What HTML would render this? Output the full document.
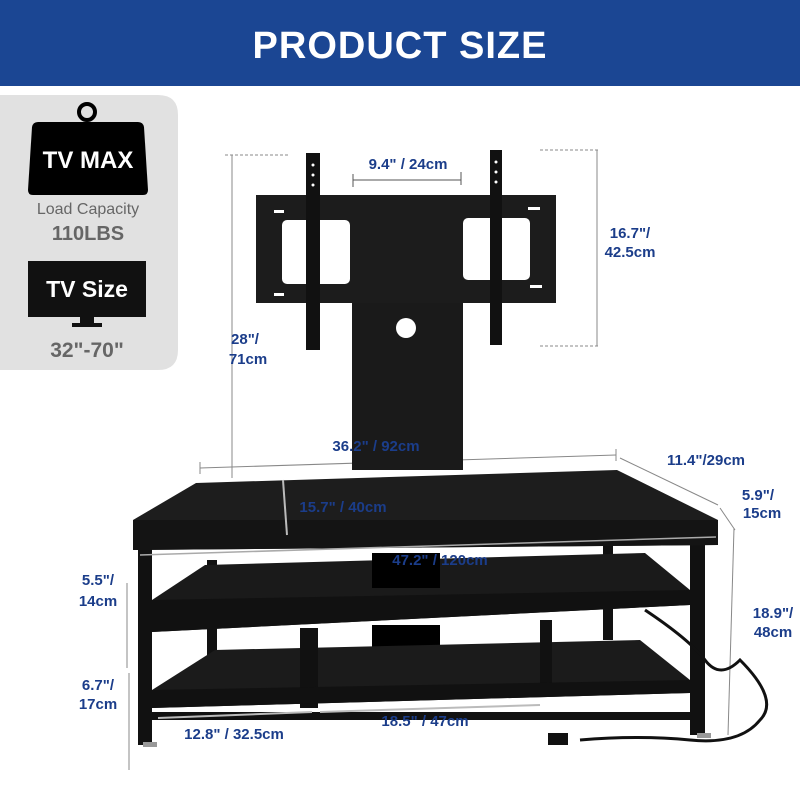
<!DOCTYPE html>
<html><head><meta charset="utf-8"><style>
html,body{margin:0;padding:0;background:#fff;}
svg{display:block;}
text{font-family:"Liberation Sans",sans-serif;font-weight:bold;}
</style></head><body>
<svg width="800" height="800" viewBox="0 0 800 800" xmlns="http://www.w3.org/2000/svg">
<rect width="800" height="800" fill="#fff"/>
<rect x="0" y="0" width="800" height="86" fill="#1b4693"/>
<text x="400" y="58" font-size="38" fill="#fff" text-anchor="middle" letter-spacing="1">PRODUCT SIZE</text>

<!-- left panel -->
<path d="M0 95 H158 Q178 95 178 115 V350 Q178 370 158 370 H0 Z" fill="#e1e1e1"/>
<circle cx="87" cy="112" r="8" fill="none" stroke="#000" stroke-width="4"/>
<path d="M38 122 H138 Q143 122 144 127 L148 190 Q148 195 143 195 H33 Q28 195 28 190 L32 127 Q33 122 38 122Z" fill="#000"/>
<text x="88" y="168" font-size="24" fill="#fff" text-anchor="middle">TV MAX</text>
<text x="88" y="214" font-size="16" fill="#666" text-anchor="middle" style="font-weight:normal">Load Capacity</text>
<text x="88" y="240" font-size="20" fill="#666" text-anchor="middle">110LBS</text>
<rect x="28" y="261" width="118" height="56" fill="#111"/>
<rect x="80" y="317" width="14" height="6" fill="#111"/><rect x="72" y="323" width="30" height="4" fill="#111"/>
<text x="87" y="297" font-size="23" fill="#fff" text-anchor="middle">TV Size</text>
<text x="87" y="357" font-size="21" fill="#666" text-anchor="middle">32"-70"</text>

<!-- dimension lines -->
<g stroke="#888" stroke-width="1" fill="none">
<line x1="225" y1="155" x2="290" y2="155" stroke-dasharray="3 2"/>
<line x1="232" y1="155" x2="232" y2="478"/>
<line x1="540" y1="150" x2="600" y2="150" stroke-dasharray="3 2"/>
<line x1="540" y1="346" x2="600" y2="346" stroke-dasharray="3 2"/>
<line x1="597" y1="150" x2="597" y2="346"/>
<line x1="353" y1="180" x2="461" y2="180" stroke="#555"/>
<line x1="353" y1="174" x2="353" y2="187" stroke="#555"/><line x1="461" y1="172" x2="461" y2="185" stroke="#555"/>
<line x1="200" y1="468" x2="616" y2="455"/>
<line x1="200" y1="462" x2="200" y2="474"/><line x1="616" y1="449" x2="616" y2="461"/>
<line x1="620" y1="458" x2="718" y2="505"/>
<line x1="720" y1="508" x2="735" y2="530"/>
<line x1="734" y1="528" x2="728" y2="735"/>
<line x1="127" y1="583" x2="127" y2="668"/>
<line x1="129" y1="673" x2="129" y2="770"/>
</g>

<!-- column -->
<rect x="352" y="200" width="111" height="270" fill="#1a1a1a"/>
<circle cx="406" cy="328" r="10" fill="#fff"/>
<!-- plate -->
<rect x="256" y="195" width="300" height="108" fill="#1c1c1c"/>
<rect x="282" y="220" width="68" height="64" rx="5" fill="#fff"/>
<rect x="463" y="218" width="67" height="62" rx="5" fill="#fff"/>
<rect x="306" y="153" width="14" height="197" fill="#111"/>
<rect x="490" y="150" width="12" height="195" fill="#111"/>
<g fill="#fff"><circle cx="313" cy="165" r="1.5"/><circle cx="313" cy="175" r="1.5"/><circle cx="313" cy="185" r="1.5"/><circle cx="496" cy="162" r="1.5"/><circle cx="496" cy="172" r="1.5"/><circle cx="496" cy="182" r="1.5"/><rect x="274" y="210" width="10" height="3"/><rect x="528" y="207" width="12" height="3"/><rect x="274" y="293" width="10" height="3"/><rect x="530" y="285" width="12" height="3"/></g>

<!-- stand -->
<rect x="138" y="545" width="14" height="200" fill="#111"/>
<rect x="690" y="535" width="15" height="200" fill="#111"/>
<rect x="207" y="560" width="10" height="95" fill="#111"/>
<rect x="603" y="540" width="10" height="100" fill="#111"/>
<polygon points="152,600 205,565 645,553 690,590 690,605 152,632" fill="#1a1a1a"/>
<polygon points="152,600 690,590 690,605 152,632" fill="#111"/>
<rect x="372" y="553" width="68" height="35" fill="#000"/>
<rect x="372" y="625" width="68" height="45" fill="#000"/>
<polygon points="152,690 215,650 640,640 690,680 690,693 152,708" fill="#1b1b1b"/>
<rect x="300" y="628" width="18" height="80" fill="#111"/>
<rect x="540" y="620" width="12" height="75" fill="#111"/>
<polygon points="152,690 690,680 690,693 152,708" fill="#111"/>
<rect x="152" y="712" width="540" height="8" fill="#111"/>
<polygon points="133,520 196,483 617,470 718,520 718,545 133,550" fill="#1d1d1d"/>
<polygon points="133,520 718,520 718,545 133,550" fill="#141414"/>
<line x1="140" y1="555" x2="716" y2="537" stroke="#aaa" stroke-width="1.5"/>
<line x1="283" y1="480" x2="287" y2="535" stroke="#bbb" stroke-width="2"/>
<line x1="158" y1="718" x2="312" y2="712" stroke="#bbb" stroke-width="2"/>
<line x1="320" y1="712" x2="540" y2="705" stroke="#bbb" stroke-width="2"/>
<rect x="143" y="742" width="14" height="5" fill="#999"/><rect x="697" y="733" width="14" height="5" fill="#999"/>
<path d="M645 610 Q690 640 705 660 Q720 680 740 660 Q780 700 760 720 Q740 745 690 740 Q640 735 580 740" stroke="#111" stroke-width="3" fill="none"/>
<rect x="548" y="733" width="20" height="12" fill="#111"/>

<!-- labels -->
<g fill="#1b3d8a" font-size="15">
<text x="408" y="169" text-anchor="middle">9.4" / 24cm</text>
<text x="630" y="238" text-anchor="middle">16.7"/</text>
<text x="630" y="257" text-anchor="middle">42.5cm</text>
<text x="245" y="344" text-anchor="middle">28"/</text>
<text x="248" y="364" text-anchor="middle">71cm</text>
<text x="376" y="451" text-anchor="middle">36.2" / 92cm</text>
<text x="706" y="465" text-anchor="middle">11.4"/29cm</text>
<text x="758" y="500" text-anchor="middle">5.9"/</text>
<text x="762" y="518" text-anchor="middle">15cm</text>
<text x="343" y="512" text-anchor="middle">15.7" / 40cm</text>
<text x="440" y="565" text-anchor="middle">47.2" / 120cm</text>
<text x="98" y="585" text-anchor="middle">5.5"/</text>
<text x="98" y="606" text-anchor="middle">14cm</text>
<text x="98" y="690" text-anchor="middle">6.7"/</text>
<text x="98" y="709" text-anchor="middle">17cm</text>
<text x="773" y="618" text-anchor="middle">18.9"/</text>
<text x="773" y="637" text-anchor="middle">48cm</text>
<text x="234" y="739" text-anchor="middle">12.8" / 32.5cm</text>
<text x="425" y="726" text-anchor="middle">18.5" / 47cm</text>
</g>
</svg>
</body></html>
